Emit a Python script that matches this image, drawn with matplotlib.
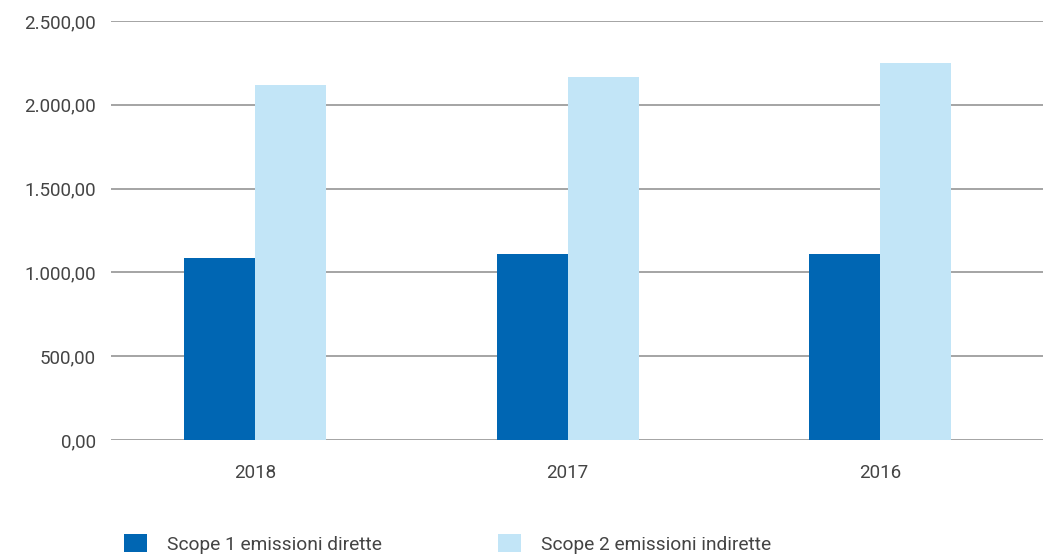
import numpy as np
import matplotlib.pyplot as plt
from matplotlib.ticker import FuncFormatter

# Emissioni per anno
anni = ["2018", "2017", "2016"]
scope1 = [1085, 1108, 1108]
scope2 = [2116, 2163, 2247]
serie = ["Scope 1 emissioni dirette", "Scope 2 emissioni indirette"]

col_scuro = "#0066b3"
col_chiaro = "#c2e5f7"
col_testo = "#444444"
col_griglia = "#8c8c8c"

plt.rcParams['font.family'] = ['Roboto', 'DejaVu Sans']


def fmt_it(v, pos):
    # 2500 -> "2.500,00"
    s = "{:,.2f}".format(v)
    return s.replace(",", "X").replace(".", ",").replace("X", ".")


fig = plt.figure(figsize=(10.43, 5.55), dpi=100)
ax = fig.add_axes([111/1043, 1 - 440/555, 1 - 111/1043, (440 - 21)/555])

x = np.arange(len(anni))
w = 0.227
ax.bar(x - w/2, scope1, w, color=col_scuro, label=serie[0], zorder=3)
ax.bar(x + w/2, scope2, w, color=col_chiaro, label=serie[1], zorder=3)

ax.set_ylim(0, 2500)
ax.set_xlim(-0.46, 2.52)
ax.set_yticks(np.arange(0, 2501, 500))
ax.yaxis.set_major_formatter(FuncFormatter(fmt_it))
ax.set_xticks(x)
ax.set_xticklabels(anni)
ax.yaxis.grid(True, color=col_griglia, linewidth=1.1, zorder=0)

for sp in ax.spines.values():
    sp.set_visible(False)
ax.tick_params(axis='both', length=0, labelsize=13.5, colors=col_testo)
ax.tick_params(axis='y', pad=11)
ax.tick_params(axis='x', pad=17)

fig.legend(loc='upper left', bbox_to_anchor=(124/1043, 1 - 534/555),
           ncol=2, frameon=False, fontsize=13.8, borderpad=0, borderaxespad=0,
           handlelength=1.2, handleheight=1.1, handletextpad=1.02,
           columnspacing=6.1, labelcolor=col_testo)

fig.savefig("out.png", dpi=100)
